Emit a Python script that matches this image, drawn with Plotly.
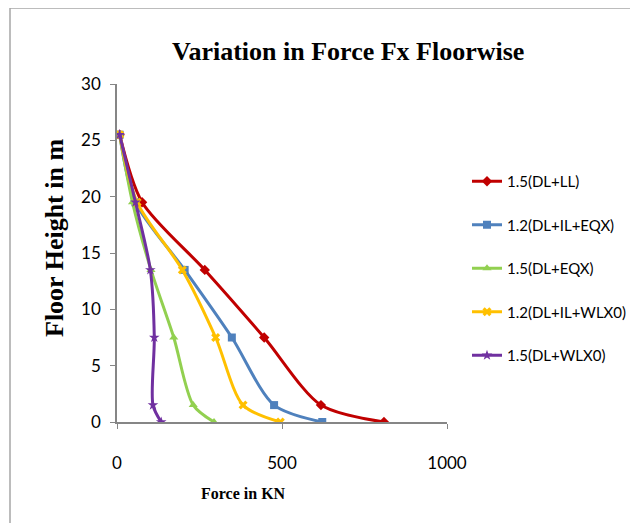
import plotly.graph_objects as go

heights = [25.5, 19.5, 13.5, 7.5, 1.5, 0]
series_names = ["1.5(DL+LL)", "1.2(DL+IL+EQX)", "1.5(DL+EQX)", "1.2(DL+IL+WLX0)", "1.5(DL+WLX0)"]
force_dl_ll = [8, 76, 266, 446, 618, 809]
force_dl_il_eqx = [8, 56, 205, 348, 476, 622]
force_dl_eqx = [8, 47, 103, 172, 231, 294]
force_dl_il_wlx = [8, 61, 198, 299, 382, 495]
force_dl_wlx = [8, 56, 101, 113, 109, 134]
x_ticks = [0, 500, 1000]
y_ticks = [0, 5, 10, 15, 20, 25, 30]

colors = ["#C00000", "#4F81BD", "#92D050", "#FFC000", "#7030A0"]
symbols = ["diamond", "square", "triangle-up", "x", "star"]
all_forces = [force_dl_ll, force_dl_il_eqx, force_dl_eqx, force_dl_il_wlx, force_dl_wlx]

fig = go.Figure()
for i, (name, xs) in enumerate(zip(series_names, all_forces)):
    fig.add_trace(go.Scatter(
        x=xs, y=heights, name=name, mode="lines+markers",
        line=dict(color=colors[i], width=3, shape="spline", smoothing=0.8),
        marker=dict(symbol=symbols[i], size=8, color=colors[i]),
        legendgroup=str(i),
    ))

OFF = 8  # page body margin
L, R, T, B = 117, 447, 84, 422
W, H = 638, 523
pw, ph = R - L, B - T

def px_x(p):
    return (p - L) / pw

def px_y(p):
    return (B - p) / ph

SANS = "Lato, Liberation Sans, sans-serif"
axis_common = dict(showgrid=False, zeroline=False, showline=True, linecolor="#868686",
                   linewidth=1.5, ticks="outside", ticklen=5, tickcolor="#868686",
                   tickfont=dict(family=SANS, size=17, color="#000000"))

fig.update_layout(
    width=W - OFF, height=H - OFF, autosize=False,
    margin=dict(l=L - OFF, r=W - R, t=T - OFF, b=H - B, pad=0, autoexpand=False),
    paper_bgcolor="white", plot_bgcolor="white",
    showlegend=True,
    legend=dict(x=px_x(467), y=px_y(165), xanchor="left", yanchor="top",
                font=dict(family=SANS, size=15, color="#000000"),
                tracegroupgap=21, itemwidth=30, bgcolor="rgba(0,0,0,0)"),
    xaxis=dict(range=[0, 1000], tickvals=x_ticks, ticklabelstandoff=20, **axis_common),
    yaxis=dict(range=[0, 30], tickvals=y_ticks, ticklabelstandoff=6, **axis_common),
)

fig.add_annotation(text="<b>Variation in Force Fx Floorwise</b>", xref="paper", yref="paper",
                   x=px_x(348), y=px_y(52), xanchor="center", yanchor="middle", showarrow=False,
                   font=dict(family="Liberation Serif", size=26, color="#000000"))
fig.add_annotation(text="<b>Floor Height in m</b>", xref="paper", yref="paper",
                   x=px_x(54), y=px_y(238), xanchor="center", yanchor="middle", showarrow=False,
                   textangle=-90, font=dict(family="Liberation Serif", size=26, color="#000000"))
fig.add_annotation(text="<b>Force in KN</b>", xref="paper", yref="paper",
                   x=px_x(243), y=px_y(493), xanchor="center", yanchor="middle", showarrow=False,
                   font=dict(family="Liberation Serif", size=16, color="#000000"))

fig.add_shape(type="rect", xref="paper", yref="paper",
              x0=px_x(10), x1=px_x(700), y0=px_y(600), y1=px_y(8),
              line=dict(color="#A6A6A6", width=1.5), fillcolor="rgba(0,0,0,0)", layer="below")

fig.write_html("out.html")
